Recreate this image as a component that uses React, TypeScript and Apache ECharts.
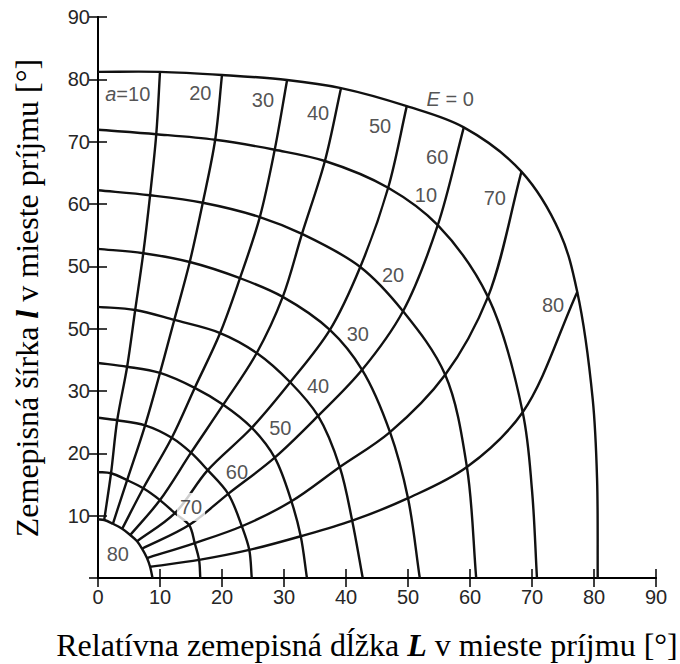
import React, { useEffect, useRef } from "react";
import * as echarts from "echarts";

// Elevation curves E and azimuth lines a
const elevations = [0, 10, 20, 30, 40, 50, 60, 70, 80];
const azimuths = [10, 20, 30, 40, 50, 60, 70, 80];

// where each elevation curve (E = 0 ... 80) meets the l axis (L = 0) and the L axis (l = 0)
const latCrossing = [81.2, 71.9, 62.2, 52.8, 43.5, 34.5, 25.7, 17.0, 9.4];
const lonCrossing = [80.6, 70.8, 61.0, 51.9, 42.7, 33.7, 24.8, 16.5, 8.8];

// [L, l] where each azimuth line meets the curves E = 0, 10, ..., 80
const az10 = [[10.0, 81.2], [9.4, 71.2], [8.4, 61.4], [7.3, 52.1], [6.0, 43.0], [4.7, 33.9], [3.1, 25.3], [2.1, 16.8], [1.0, 9.3]];
const az20 = [[20.0, 80.7], [18.9, 70.3], [16.9, 60.2], [14.8, 50.7], [12.3, 41.4], [10.0, 32.9], [7.6, 24.5], [4.7, 15.7], [2.4, 8.7]];
const az30 = [[30.5, 79.9], [28.5, 68.7], [26.1, 57.9], [22.9, 48.1], [19.7, 39.3], [15.6, 30.5], [11.9, 22.5], [7.3, 14.4], [3.9, 7.9]];
const az40 = [[39.2, 78.6], [36.6, 66.9], [32.9, 55.2], [29.8, 45.1], [25.6, 36.1], [20.2, 27.8], [15.0, 20.1], [10.0, 12.5], [5.2, 6.9]];
const az50 = [[49.8, 75.7], [46.8, 62.6], [42.3, 49.9], [37.4, 39.8], [31.0, 31.4], [24.8, 24.1], [17.7, 17.3], [12.4, 10.4], [6.3, 5.9]];
const az60 = [[59.0, 72.3], [54.8, 56.6], [49.2, 42.8], [42.6, 33.4], [35.5, 26.0], [28.5, 19.3], [21.0, 13.5], [14.7, 8.5], [7.1, 4.7]];
const az70 = [[68.3, 65.2], [62.9, 45.1], [56.0, 32.6], [47.1, 23.4], [39.0, 17.8], [31.2, 12.3], [23.2, 8.3], [15.6, 5.6], [7.9, 3.2]];
const az80 = [[77.3, 45.9], [68.5, 26.6], [59.5, 17.8], [50.0, 12.8], [41.0, 9.2], [32.7, 6.7], [24.4, 4.5], [16.3, 2.9], [8.4, 1.8]];
const azLines = [az10, az20, az30, az40, az50, az60, az70, az80];

// further points read on the outer elevation curves (E = 0, E = 10)
const e0Extra = [[74.5, 55.4], [79.8, 28.6], [80.5, 15.7]];
const e10Extra = [[70.0, 14.1]];
const eExtras = [e0Extra, e10Extra, [], [], [], [], [], [], []];

// label positions [L, l]
const azLabelPos = [[4.8, 77.6], [16.5, 77.8], [26.6, 76.7], [35.5, 74.6], [45.5, 72.5], [54.7, 67.5], [64.0, 61.0], [73.4, 43.8]];
const elLabelPos = [[56.8, 76.8], [52.9, 61.4], [47.6, 48.6], [41.9, 39.1], [35.5, 30.8], [29.4, 24.1], [22.4, 17.0], [15.0, 11.4], [3.2, 3.9]];

// tick labels
const xTickLabels = ["0", "10", "20", "30", "40", "50", "60", "70", "80", "90"];
const yTickLabels = ["", "10", "20", "30", "50", "50", "60", "70", "80", "90"];

const SANS = "'Liberation Sans', Arial, Helvetica, sans-serif";
const SERIF = "'Liberation Serif', 'Times New Roman', serif";
const TEXT = "#262626";

// centripetal Catmull-Rom through pixel points -> SVG path data
function splinePath(p: number[][]): string {
  const n = p.length;
  if (n < 2) return "";
  const at = (i: number) => {
    if (i < 0) return [2 * p[0][0] - p[1][0], 2 * p[0][1] - p[1][1]];
    if (i >= n) return [2 * p[n - 1][0] - p[n - 2][0], 2 * p[n - 1][1] - p[n - 2][1]];
    return p[i];
  };
  let d = `M${p[0][0].toFixed(2)},${p[0][1].toFixed(2)}`;
  for (let i = 0; i < n - 1; i++) {
    const p0 = at(i - 1), p1 = at(i), p2 = at(i + 1), p3 = at(i + 2);
    const d1 = Math.pow(Math.hypot(p1[0] - p0[0], p1[1] - p0[1]), 0.5) || 1e-6;
    const d2 = Math.pow(Math.hypot(p2[0] - p1[0], p2[1] - p1[1]), 0.5) || 1e-6;
    const d3 = Math.pow(Math.hypot(p3[0] - p2[0], p3[1] - p2[1]), 0.5) || 1e-6;
    const b1 = [0, 1].map(
      (k) => (d1 * d1 * p2[k] - d2 * d2 * p0[k] + (2 * d1 * d1 + 3 * d1 * d2 + d2 * d2) * p1[k]) / (3 * d1 * (d1 + d2))
    );
    const b2 = [0, 1].map(
      (k) => (d3 * d3 * p1[k] - d2 * d2 * p3[k] + (2 * d3 * d3 + 3 * d3 * d2 + d2 * d2) * p2[k]) / (3 * d3 * (d3 + d2))
    );
    d += `C${b1[0].toFixed(2)},${b1[1].toFixed(2)},${b2[0].toFixed(2)},${b2[1].toFixed(2)},${p2[0].toFixed(2)},${p2[1].toFixed(2)}`;
  }
  return d;
}

export default function App() {
  const ref = useRef<HTMLDivElement>(null);

  useEffect(() => {
    document.body.style.margin = "0";
    document.body.style.overflow = "hidden";
    const chart = echarts.init(ref.current!, null, { renderer: "svg" });

    const eCurves = elevations.map((_, ei) => {
      const pts: number[][] = [[0, latCrossing[ei]], ...azLines.map((a) => a[ei]), ...eExtras[ei], [lonCrossing[ei], 0]];
      pts.sort((p, q) => Math.atan2(p[0], p[1]) - Math.atan2(q[0], q[1]));
      return pts;
    });
    const curves = [...eCurves, ...azLines];

    const axisBase: any = {
      type: "value",
      min: 0,
      max: 90,
      interval: 10,
      axisLine: { show: true, lineStyle: { color: "#000", width: 2 } },
      axisTick: { show: true, inside: true, length: 9, lineStyle: { color: "#000", width: 1.5 } },
      splitLine: { show: false },
    };

    const labelData: any[] = [
      ...azimuths.map((a, i) => ({
        value: azLabelPos[i],
        name: i === 0 ? "{i|a}=" + a : String(a),
      })),
      ...elevations.map((e, i) => ({
        value: elLabelPos[i],
        name: i === 0 ? "{i|E} = " + e : String(e),
        label: e === 70 ? { backgroundColor: "#fff", padding: [4, 3] } : undefined,
      })),
    ];

    const option: any = {
      animation: false,
      grid: { left: 98, right: 24, top: 17, bottom: 86 },
      xAxis: [
        {
          ...axisBase,
          position: "bottom",
          axisLabel: {
            margin: 9,
            fontFamily: SANS,
            fontSize: 20,
            color: TEXT,
            formatter: (v: number) => xTickLabels[Math.round(v / 10)],
          },
        },
        { ...axisBase, position: "top", axisLabel: { show: false } },
      ],
      yAxis: [
        {
          ...axisBase,
          position: "left",
          axisLabel: {
            margin: 8,
            fontFamily: SANS,
            fontSize: 20,
            color: TEXT,
            formatter: (v: number) => yTickLabels[Math.round(v / 10)],
          },
        },
        { ...axisBase, position: "right", axisLabel: { show: false } },
      ],
      series: [
        {
          type: "custom",
          coordinateSystem: "cartesian2d",
          silent: true,
          clip: false,
          z: 2,
          data: curves.map((c) => c[0]),
          renderItem: (params: any, api: any) => {
            const pts = curves[params.dataIndex].map((p) => api.coord(p));
            return {
              type: "path",
              shape: { pathData: splinePath(pts) },
              style: { fill: "none", stroke: "#111", lineWidth: 2.4 },
            };
          },
        },
        {
          type: "scatter",
          data: labelData,
          symbolSize: 0,
          silent: true,
          z: 10,
          itemStyle: { color: "rgba(0,0,0,0)" },
          label: {
            show: true,
            position: "inside",
            formatter: (p: any) => p.name,
            fontFamily: SANS,
            fontSize: 20,
            color: TEXT,
            rich: {
              i: { fontStyle: "italic", fontFamily: SANS, fontSize: 20, color: TEXT },
            },
          },
        },
      ],
      graphic: [
        {
          type: "text",
          x: 367,
          y: 645,
          style: {
            text: "{n|Relatívna zemepisná dĺžka }{b|L}{n| v mieste príjmu [°]}",
            align: "center",
            verticalAlign: "middle",
            textAlign: "center",
            textVerticalAlign: "middle",
            fill: "#000",
            rich: {
              n: { fontFamily: SERIF, fontSize: 32, color: "#000" },
              b: { fontFamily: SERIF, fontSize: 32, fontStyle: "italic", fontWeight: "bold", color: "#000" },
            },
          },
        },
        {
          type: "text",
          x: 27,
          y: 298,
          rotation: Math.PI / 2,
          style: {
            text: "{n|Zemepisná šírka }{b|l}{n| v mieste príjmu [°]}",
            align: "center",
            verticalAlign: "middle",
            textAlign: "center",
            textVerticalAlign: "middle",
            fill: "#000",
            rich: {
              n: { fontFamily: SERIF, fontSize: 32, color: "#000" },
              b: { fontFamily: SERIF, fontSize: 32, fontStyle: "italic", fontWeight: "bold", color: "#000" },
            },
          },
        },
      ],
    };

    chart.setOption(option);
    return () => chart.dispose();
  }, []);

  return <div ref={ref} style={{ width: 680, height: 664 }} />;
}
